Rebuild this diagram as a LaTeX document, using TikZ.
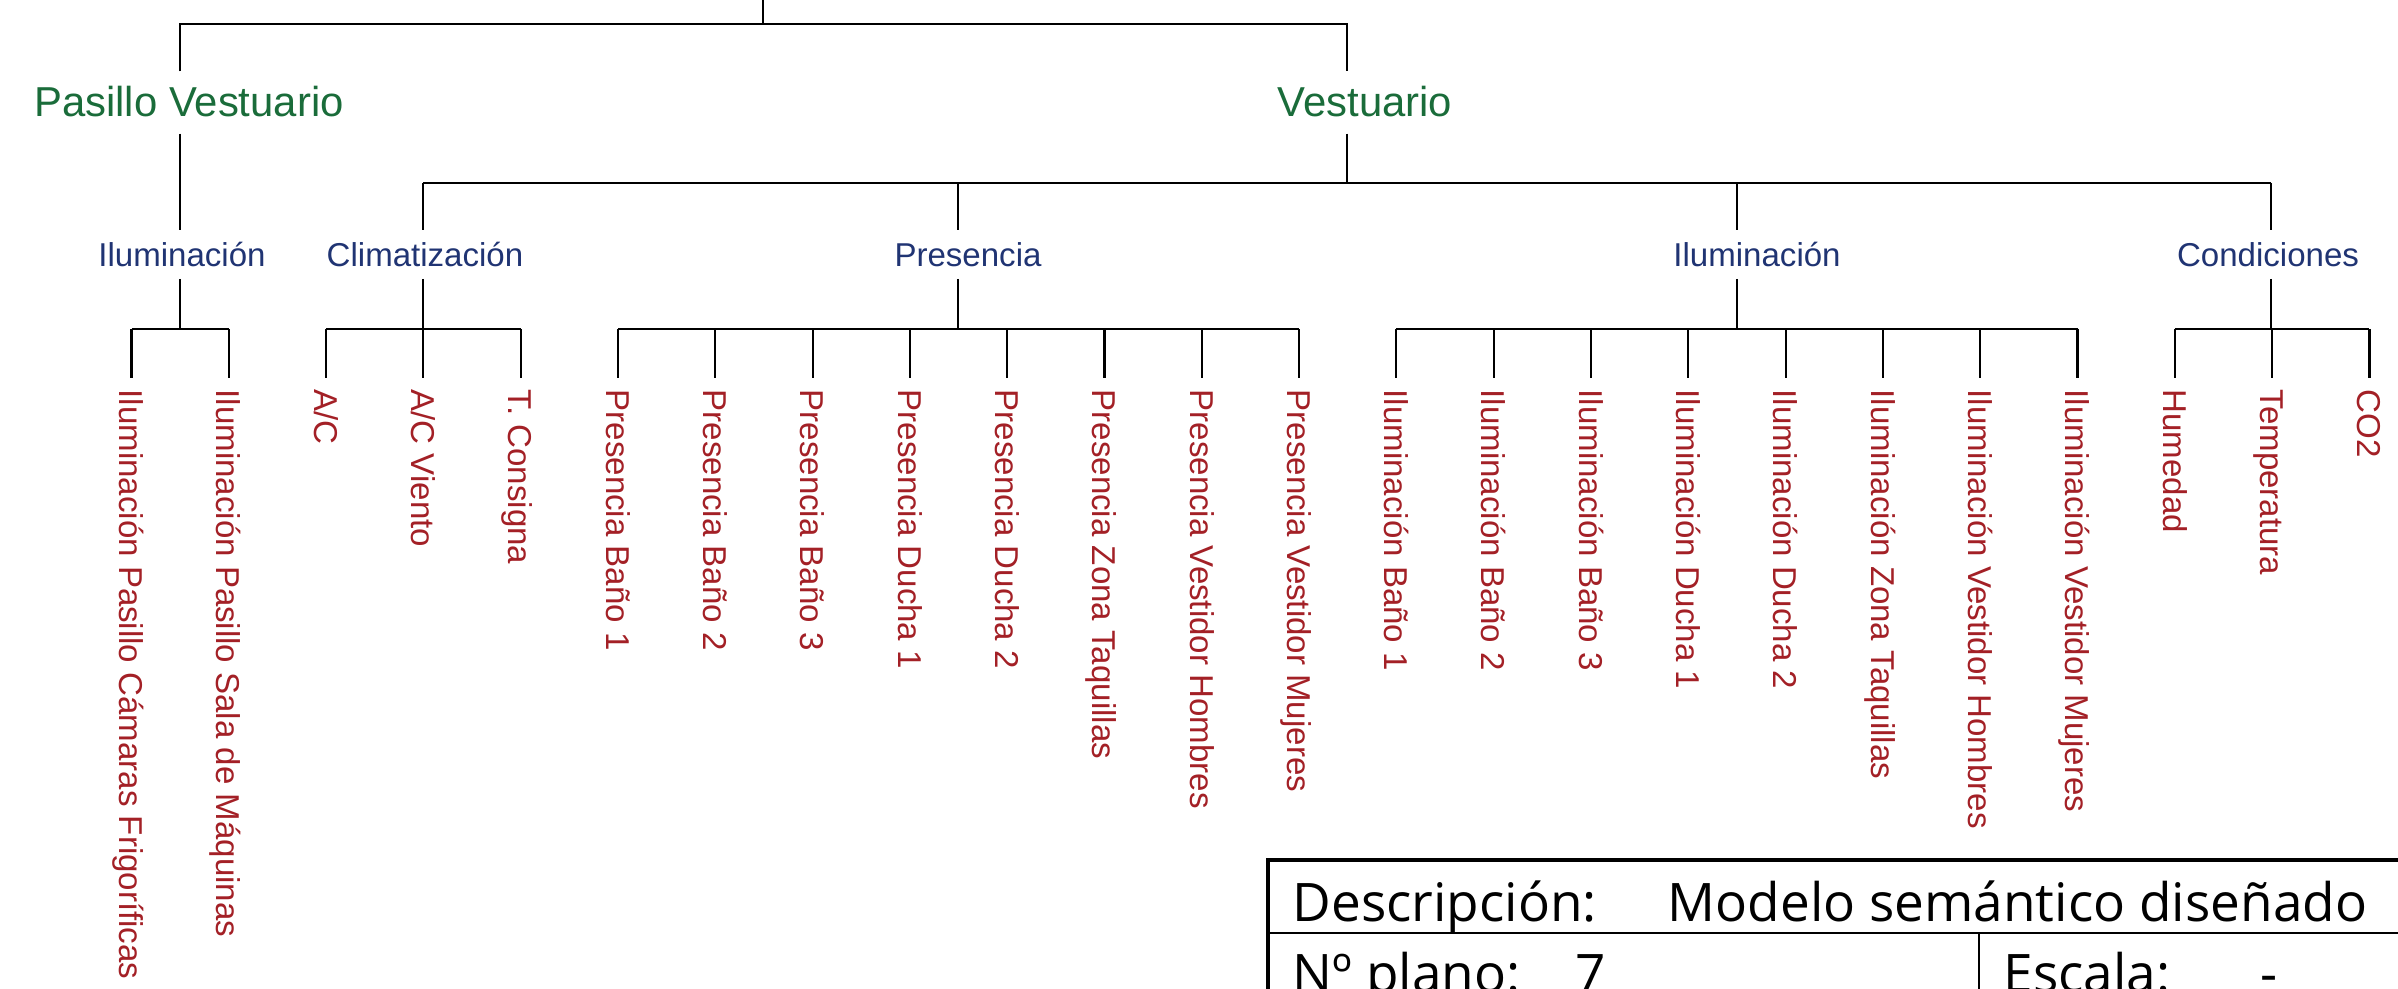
\documentclass[tikz,border=0pt]{standalone}
\usepackage{fontspec}
\setmainfont{Liberation Sans}
\newfontfamily\cajetinfont{Open Sans}
\usepackage{tikz}

\definecolor{verdezona}{RGB}{26,108,58}
\definecolor{azulgrupo}{RGB}{32,52,115}
\definecolor{rojohoja}{RGB}{163,32,38}

\begin{document}
\begin{tikzpicture}[x=0.01cm, y=-0.01cm,
    rama/.style={line width=0.6pt},
    marco/.style={line width=1.1pt},
    zona/.style={text=verdezona, font=\fontsize{11.9}{14}\selectfont, inner xsep=0pt, inner ysep=0.16cm, text height=0.29cm, text depth=0pt},
    grupo/.style={text=azulgrupo, font=\fontsize{9.4}{11}\selectfont, inner xsep=0pt, inner ysep=0.12cm, text height=0.235cm, text depth=0pt},
    hoja/.style={text=rojohoja, font=\fontsize{9.4}{11}\selectfont, rotate=-90, anchor=west, inner xsep=0.11cm, inner ysep=0pt, text height=0.236cm, text depth=0pt},
    cajetin/.style={font=\cajetinfont\fontsize{15.1}{18}\selectfont, anchor=base west, inner sep=0pt}]

  \useasboundingbox (0,0) rectangle (2398,989);
  \clip (0,0) rectangle (2398,989);

  % niveles de las barras horizontales
  \coordinate (b0) at (0,24);
  \coordinate (b1) at (0,183);
  \coordinate (b2) at (0,329);

  % eje de cada rama
  \coordinate (raiz) at (763,0);
  \coordinate (lPas) at (180,0);
  \coordinate (lVest) at (1347,0);
  \coordinate (lIlumP) at (180,0);
  \coordinate (lClima) at (423,0);
  \coordinate (lPres) at (958,0);
  \coordinate (lIlumV) at (1737,0);
  \coordinate (lCond) at (2271,0);

  % zonas
  \node[zona] (pasillo) at (189,102.5) {Pasillo Vestuario};
  \node[zona] (vest) at (1365,102.5) {Vestuario};

  % grupos
  \node[grupo] (ilumP) at (182,254.5) {Iluminación};
  \node[grupo] (clima) at (425,254.5) {Climatización};
  \node[grupo] (pres) at (968,254.5) {Presencia};
  \node[grupo] (ilumV) at (1757,254.5) {Iluminación};
  \node[grupo] (cond) at (2268,254.5) {Condiciones};

  % hojas (texto girado)
  \foreach \texto [count=\i from 0] in {Iluminación Pasillo Cámaras Frigoríficas, Iluminación Pasillo Sala de Máquinas,
      A/C, A/C Viento, T. Consigna,
      Presencia Baño 1, Presencia Baño 2, Presencia Baño 3, Presencia Ducha 1, Presencia Ducha 2,
      Presencia Zona Taquillas, Presencia Vestidor Hombres, Presencia Vestidor Mujeres,
      Iluminación Baño 1, Iluminación Baño 2, Iluminación Baño 3, Iluminación Ducha 1, Iluminación Ducha 2,
      Iluminación Zona Taquillas, Iluminación Vestidor Hombres, Iluminación Vestidor Mujeres,
      Humedad, Temperatura, CO2}
    \node[hoja] (h\i) at ({131.5+97.3*\i},378) {\texto};

  % tronco
  \draw[rama] (raiz) -- (raiz |- b0);
  \draw[rama] (lPas |- pasillo.north) -- (lPas |- b0) -- (lVest |- b0) -- (lVest |- vest.north);

  % pasillo
  \draw[rama] (lPas |- pasillo.south) -- (lIlumP |- ilumP.north);

  % vestuario
  \draw[rama] (lVest |- vest.south) -- (lVest |- b1);
  \draw[rama] (lClima |- b1) -- (lCond |- b1);
  \foreach \g/\l in {clima/lClima, pres/lPres, ilumV/lIlumV, cond/lCond}
    \draw[rama] (\l |- b1) -- (\l |- \g.north);

  % grupos a hojas
  \foreach \g/\l in {ilumP/lIlumP, clima/lClima, pres/lPres, ilumV/lIlumV, cond/lCond}
    \draw[rama] (\l |- \g.south) -- (\l |- b2);
  \foreach \a/\b in {0/1, 2/4, 5/12, 13/20, 21/23}
    \draw[rama] (h\a.west |- b2) -- (h\b.west |- b2);
  \foreach \i in {0,...,23}
    \draw[rama] (h\i.west |- b2) -- (h\i.west);

  % cajetin
  \draw[marco] (1268,1000) -- (1268,860) -- (2410,860);
  \draw[rama] (1268,933) -- (2410,933);
  \draw[rama] (1979,933) -- (1979,1000);
  \node[cajetin] (desc) at (1292,921) {Descripción:};
  \node[cajetin] (descval) at (1667,921) {Modelo semántico diseñado};
  \node[cajetin] (plano) at (1292,992) {Nº plano:};
  \node[cajetin] (planoval) at (1575,992) {7};
  \node[cajetin] (escala) at (2003,992) {Escala:};
  \node[cajetin] (escalaval) at (2260,992) {-};

\end{tikzpicture}
\end{document}
